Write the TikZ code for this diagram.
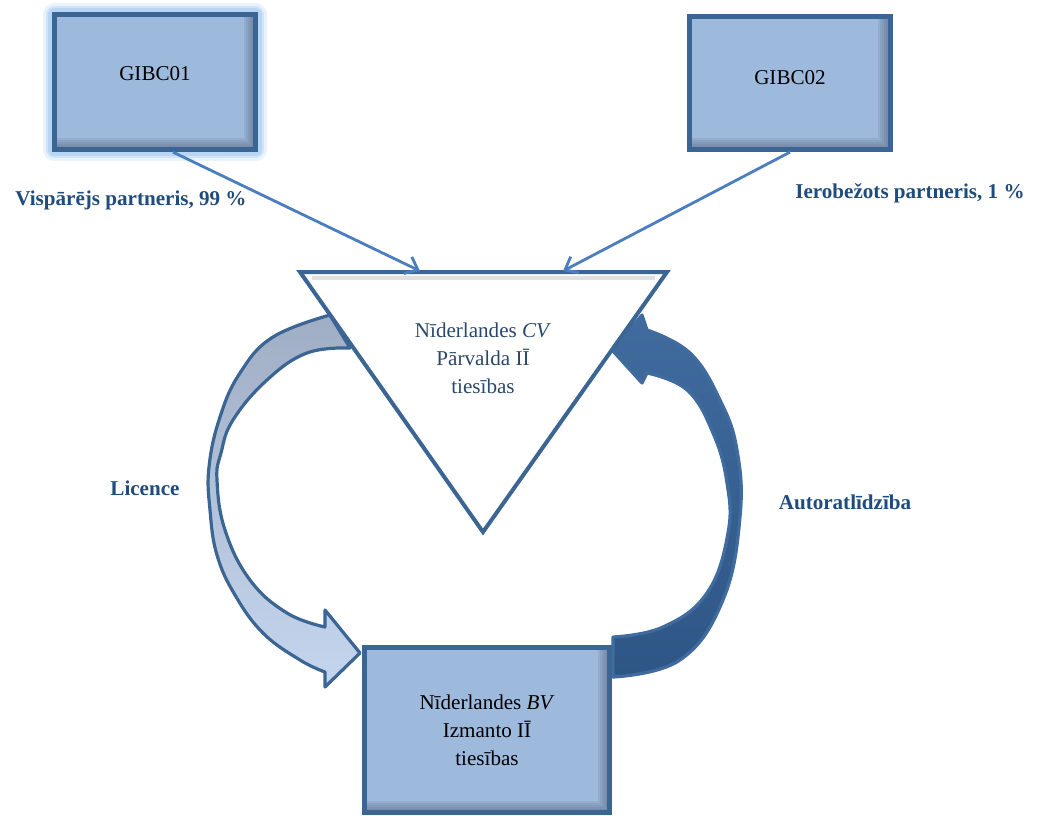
\documentclass[tikz,border=0pt]{standalone}
\usepackage{fontspec}
\setmainfont{Liberation Serif}
\usetikzlibrary{arrows.meta}

\definecolor{boxfill}{RGB}{157,185,220}
\definecolor{boxline}{RGB}{59,101,147}
\definecolor{boxshade}{RGB}{90,104,128}
\definecolor{glowblue}{RGB}{150,195,240}
\definecolor{linkblue}{RGB}{74,126,191}
\definecolor{textblue}{RGB}{31,76,124}
\definecolor{cvblue}{RGB}{42,72,108}
\definecolor{licgray}{RGB}{160,174,196}
\definecolor{liclight}{RGB}{196,214,238}
\definecolor{roydark}{RGB}{64,107,158}
\definecolor{roydeep}{RGB}{46,86,133}

\begin{document}
\begin{tikzpicture}[x=0.025cm, y=-0.025cm,
                    every node/.style = {font=\fontsize{15}{20}\selectfont,
                    align=center},
                    ibox/.style = {shape=rectangle, draw=boxline, fill=boxfill,
                    line width=0.125cm,
                    path picture={
                      \foreach \w in {0.1,0.2,...,0.6}
                        \draw[boxshade, opacity=0.14, line width=\w cm]
                          (path picture bounding box.north east)
                          -- (path picture bounding box.south east)
                          -- (path picture bounding box.south west);}},
                    glow/.style = {
                    preaction={draw=glowblue, opacity=0.2, line width=0.55cm, line join=round},
                    preaction={draw=glowblue, opacity=0.3, line width=0.42cm, line join=round},
                    preaction={draw=glowblue, opacity=0.4, line width=0.3cm, line join=round}},
                    link/.style = {draw=linkblue, line width=0.07cm,
                    -{Straight Barb[length=8pt, width=13pt]}},
                    share/.style = {text=textblue,
                    font=\fontsize{15}{20}\selectfont\bfseries},
                    bandarrow/.style = {draw=boxline, line width=0.08cm,
                    line join=round}]
  \useasboundingbox (0,0) rectangle (1041,816);

  % curved arrows
  \shadedraw[bandarrow, top color=licgray, bottom color=liclight]
    plot[smooth, tension=0.7] coordinates {(330,315) (273,337) (240,373)
      (220,417) (209,467) (210,510) (217,555) (235,595) (263,633) (300,660)
      (325,672)}
    -- (325,687) -- (360,653) -- (325,610)
    -- plot[smooth, tension=0.7] coordinates {(325,627) (287,613) (250,580)
      (225,530) (217,480) (221,453) (233,420) (267,380) (307,353) (350,348)}
    -- cycle;
  \shadedraw[bandarrow, draw=roydark, top color=roydark, bottom color=roydeep]
    plot[smooth, tension=0.7] coordinates {(613,677) (680,660) (723,600)
      (740,517) (737,450) (720,400) (690,353) (647,330)}
    -- (642,315) -- (612,350) -- (642,383)
    -- plot[smooth, tension=0.7] coordinates {(647,373) (687,390) (713,433)
      (727,483) (728,533) (707,593) (663,627) (613,637)}
    -- cycle;

  % CV triangle
  \coordinate (tl) at (300,272);
  \coordinate (tr) at (667,272);
  \coordinate (tb) at (483,532);
  \draw[draw=boxline, fill=white, line width=0.1cm] (tl) -- (tr) -- (tb) -- cycle;
  \draw[black!12, line width=0.08cm] (312,278) -- (655,278);
  \node[text=cvblue] (cv) at (483,358) {Nīderlandes \textit{CV}\\Pārvalda IĪ\\tiesības};

  % boxes
  \node[ibox, glow, minimum width=5.03cm, minimum height=3.38cm,
        text depth=0.45cm] (g1) at (155,82) {GIBC01};
  \node[ibox, minimum width=5.0cm, minimum height=3.33cm,
        text depth=0.3cm] (g2) at (790,83) {GIBC02};
  \node[ibox, minimum width=6.13cm, minimum height=4.13cm] (bv) at (487,730)
    {Nīderlandes \textit{BV}\\Izmanto IĪ\\tiesības};

  % shares
  \coordinate (in1) at (420,271);
  \coordinate (in2) at (563,271);
  \draw[link] ([xshift=0.45cm]g1.south) -- (in1);
  \draw[link] (g2.south) -- (in2);

  \node[share] (l1) at (131,200) {Vispārējs partneris, 99~\%};
  \node[share] (l2) at (910,193) {Ierobežots partneris, 1~\%};
  \node[share] (lic) at (145,488) {Licence};
  \node[share] (aut) at (845,502) {Autoratlīdzība};
\end{tikzpicture}
\end{document}
